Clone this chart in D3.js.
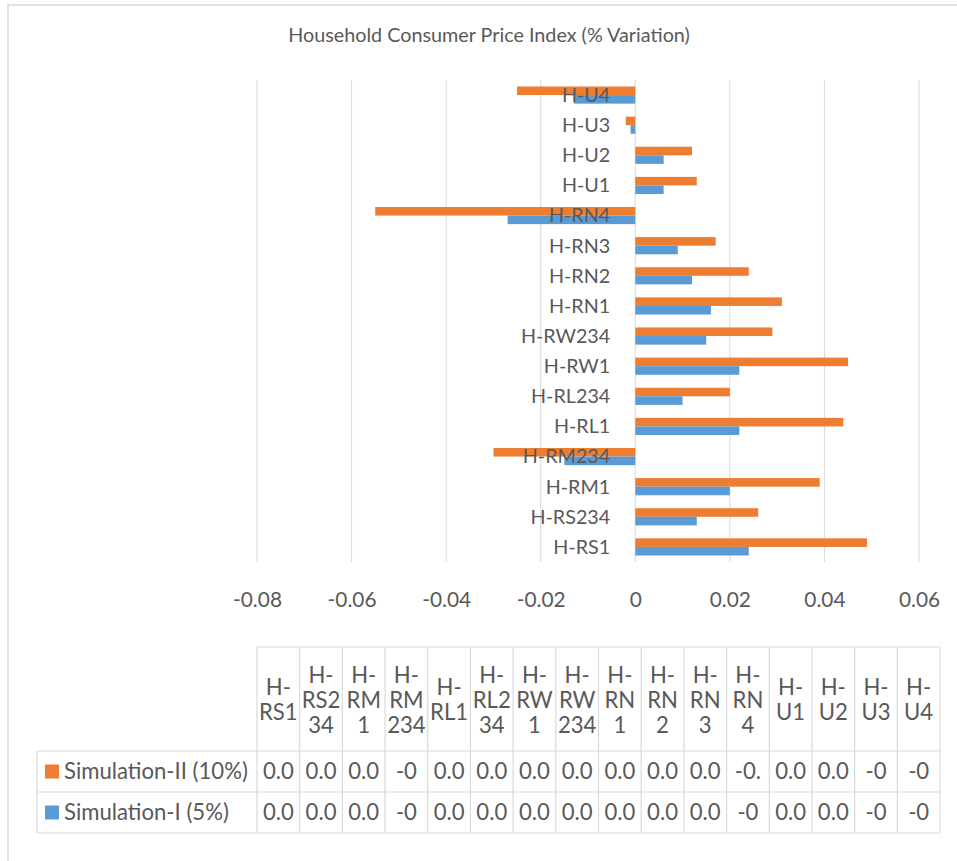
<!DOCTYPE html>
<html>
<head>
<meta charset="utf-8">
<script src="https://cdn.jsdelivr.net/npm/d3@7"></script>
<style>
  html, body { margin: 0; padding: 0; background: #ffffff; }
  svg { display: block; }
</style>
</head>
<body>
<script>
// Household categories, bottom to top of the bar chart / left to right in the table
const categories = ["H-RS1", "H-RS234", "H-RM1", "H-RM234", "H-RL1", "H-RL234", "H-RW1", "H-RW234",
                    "H-RN1", "H-RN2", "H-RN3", "H-RN4", "H-U1", "H-U2", "H-U3", "H-U4"];

// % variation of the household CPI under each simulation
const simII = [0.049, 0.026, 0.039, -0.030, 0.044, 0.020, 0.045, 0.029,
               0.031, 0.024, 0.017, -0.055, 0.013, 0.012, -0.002, -0.025];
const simI  = [0.024, 0.013, 0.020, -0.015, 0.022, 0.010, 0.022, 0.015,
               0.016, 0.012, 0.009, -0.027, 0.006, 0.006, -0.001, -0.013];

const seriesNames = ["Simulation-II (10%)", "Simulation-I (5%)"];
const seriesColors = ["#ED7D31", "#5B9BD5"];

const xTicks = [-0.08, -0.06, -0.04, -0.02, 0, 0.02, 0.04, 0.06];

// Wrapped column headings of the data table
const headerLines = [["H-", "RS1"], ["H-", "RS2", "34"], ["H-", "RM", "1"], ["H-", "RM", "234"],
                     ["H-", "RL1"], ["H-", "RL2", "34"], ["H-", "RW", "1"], ["H-", "RW", "234"],
                     ["H-", "RN", "1"], ["H-", "RN", "2"], ["H-", "RN", "3"], ["H-", "RN", "4"],
                     ["H-", "U1"], ["H-", "U2"], ["H-", "U3"], ["H-", "U4"]];

// Cell texts of the data table as they appear in the narrow columns
const tableII = ["0.0", "0.0", "0.0", "-0", "0.0", "0.0", "0.0", "0.0",
                 "0.0", "0.0", "0.0", "-0.", "0.0", "0.0", "-0", "-0"];
const tableI  = ["0.0", "0.0", "0.0", "-0", "0.0", "0.0", "0.0", "0.0",
                 "0.0", "0.0", "0.0", "-0", "0.0", "0.0", "-0", "-0"];

const W = 957, H = 861;
const FONT = "Lato, 'Open Sans', 'Noto Sans', sans-serif";
const TEXT = "#595959";
const GRID = "#D9D9D9";

const svg = d3.select("body").append("svg")
  .attr("width", W).attr("height", H)
  .attr("viewBox", `0 0 ${W} ${H}`);

svg.append("rect").attr("width", W).attr("height", H).attr("fill", "#ffffff");

// font size that makes a sample string span a given width
function fitSize(sample, width) {
  const t = svg.append("text").attr("font-family", FONT).attr("font-size", 100).text(sample);
  const w = t.node().getComputedTextLength();
  t.remove();
  return 100 * width / w;
}
const titleSize = fitSize("Household Consumer Price Index (% Variation)", 402);
const tickSize  = fitSize("-0.08", 49);
const catSize   = fitSize("H-RS1", 57);
const tableSize = fitSize("Simulation-II (10%)", 184);

// chart frame
svg.append("path")
  .attr("d", `M8,${H} L8,5 L${W},5`)
  .attr("fill", "none").attr("stroke", GRID).attr("stroke-width", 1.5);

// title
svg.append("text")
  .attr("x", 489).attr("y", 35).attr("dy", "0.35em")
  .attr("text-anchor", "middle")
  .attr("font-family", FONT).attr("font-size", titleSize).attr("fill", TEXT)
  .text("Household Consumer Price Index (% Variation)");

// scales
const plotTop = 80, plotBottom = 562;
const x = d3.scaleLinear().domain([-0.08, 0.06]).range([257, 919]);
const y = d3.scaleBand().domain(categories.slice().reverse())
  .range([plotTop, plotBottom]).paddingInner(0.43).paddingOuter(0.215);
const ySub = d3.scaleBand().domain([0, 1]).range([0, y.bandwidth()]);

// vertical gridlines
svg.append("g").selectAll("line").data(xTicks).join("line")
  .attr("x1", d => x(d)).attr("x2", d => x(d))
  .attr("y1", plotTop).attr("y2", plotBottom)
  .attr("stroke", GRID).attr("stroke-width", 1);

// value axis labels
const xAxis = d3.axisBottom(x).tickValues(xTicks)
  .tickFormat(d => d === 0 ? "0" : String(+d.toFixed(2)))
  .tickSize(0).tickPadding(0);
const gx = svg.append("g").attr("transform", `translate(0,600)`).call(xAxis);
gx.select(".domain").remove();
gx.selectAll("text")
  .attr("y", 0).attr("dy", "0.35em")
  .attr("font-family", FONT).attr("font-size", tickSize).attr("fill", TEXT);

// bars: Simulation-II above Simulation-I within each category
const series = [simII, simI];
const rows = [];
series.forEach((vals, s) => vals.forEach((v, i) => rows.push({ cat: categories[i], v, s })));
svg.append("g").selectAll("rect").data(rows).join("rect")
  .attr("x", d => x(Math.min(0, d.v)))
  .attr("width", d => Math.abs(x(d.v) - x(0)))
  .attr("y", d => y(d.cat) + ySub(d.s))
  .attr("height", ySub.bandwidth())
  .attr("fill", d => seriesColors[d.s]);

// category labels, placed beside the zero line
const yAxis = d3.axisLeft(y).tickSize(0).tickPadding(0);
const gy = svg.append("g").attr("transform", `translate(${x(0) - 25},0)`).call(yAxis);
gy.select(".domain").remove();
gy.selectAll("text")
  .attr("x", 0).attr("dy", "0.35em")
  .attr("font-family", FONT).attr("font-size", catSize).attr("fill", TEXT);

// data table
const tLeft = 37, colLeft = 257, colRight = 940;
const hTop = 647, hBot = 751, r1Bot = 792, r2Bot = 833;
const col = d3.scaleBand().domain(categories).range([colLeft, colRight]);
const tg = svg.append("g");
const border = sel => sel.attr("stroke", GRID).attr("stroke-width", 1.2).attr("fill", "none");

// horizontal rules
tg.append("line").attr("x1", colLeft).attr("x2", colRight).attr("y1", hTop).attr("y2", hTop).call(border);
[hBot, r1Bot, r2Bot].forEach(yy =>
  tg.append("line").attr("x1", tLeft).attr("x2", colRight).attr("y1", yy).attr("y2", yy).call(border));
// vertical rules
tg.append("line").attr("x1", tLeft).attr("x2", tLeft).attr("y1", hBot).attr("y2", r2Bot).call(border);
const colEdges = categories.map(c => col(c)).concat([colRight]);
tg.selectAll("line.v").data(colEdges).join("line").attr("class", "v")
  .attr("x1", d => d).attr("x2", d => d).attr("y1", hTop).attr("y2", r2Bot).call(border);

// column headings
const lineGap = 25, headCenter = 700;
categories.forEach((c, i) => {
  const lines = headerLines[i];
  const y0 = headCenter - (lines.length - 1) * lineGap / 2;
  tg.append("text")
    .attr("text-anchor", "middle")
    .attr("font-family", FONT).attr("font-size", tableSize).attr("fill", TEXT)
    .selectAll("tspan").data(lines).join("tspan")
    .attr("x", col(c) + col.bandwidth() / 2)
    .attr("y", (d, k) => y0 + k * lineGap).attr("dy", "0.35em")
    .text(d => d);
});

// series rows with legend keys
const rowCenters = [(hBot + r1Bot) / 2, (r1Bot + r2Bot) / 2];
[tableII, tableI].forEach((cells, s) => {
  const cy = rowCenters[s];
  tg.append("rect").attr("x", 45).attr("y", cy - 7).attr("width", 14).attr("height", 14)
    .attr("fill", seriesColors[s]);
  tg.append("text").attr("x", 64).attr("y", cy).attr("dy", "0.35em")
    .attr("font-family", FONT).attr("font-size", tableSize).attr("fill", TEXT)
    .text(seriesNames[s]);
  tg.selectAll(null).data(cells).join("text")
    .attr("x", (d, i) => col(categories[i]) + col.bandwidth() / 2)
    .attr("y", cy).attr("dy", "0.35em")
    .attr("text-anchor", "middle")
    .attr("font-family", FONT).attr("font-size", tableSize).attr("fill", TEXT)
    .text(d => d);
});
</script>
</body>
</html>
